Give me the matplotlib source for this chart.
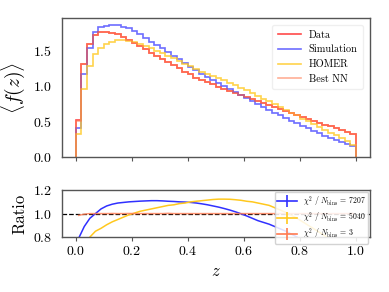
import numpy as np
import matplotlib
matplotlib.use("Agg")
import matplotlib.pyplot as plt
from matplotlib.lines import Line2D

plt.rcParams['font.family'] = 'serif'
plt.rcParams['font.serif'] = ['cmr10', 'DejaVu Serif']
plt.rcParams['mathtext.fontset'] = 'cm'
plt.rcParams['axes.formatter.use_mathtext'] = True
plt.rcParams['axes.unicode_minus'] = False

# 50 bins on [0, 1]
edges = np.linspace(0.0, 1.0, 51)
centers = 0.5 * (edges[:-1] + edges[1:])

data_vals = [0.52, 1.30, 1.59, 1.71, 1.75, 1.76, 1.74, 1.72, 1.68, 1.64,
             1.60, 1.555, 1.51, 1.465, 1.42, 1.375, 1.33, 1.29, 1.245, 1.20,
             1.16, 1.115, 1.08, 1.05, 1.02, 0.99, 0.96, 0.93, 0.90, 0.87,
             0.84, 0.815, 0.785, 0.755, 0.73, 0.70, 0.67, 0.645, 0.615, 0.59,
             0.565, 0.54, 0.51, 0.485, 0.455, 0.43, 0.405, 0.38, 0.355, 0.33]

sim_vals = [0.41, 1.17, 1.53, 1.76, 1.82, 1.84, 1.85, 1.85, 1.83, 1.81,
            1.77, 1.72, 1.67, 1.62, 1.575, 1.525, 1.47, 1.42, 1.37, 1.32,
            1.27, 1.215, 1.17, 1.13, 1.085, 1.045, 1.00, 0.96, 0.915, 0.87,
            0.825, 0.785, 0.74, 0.70, 0.665, 0.625, 0.585, 0.55, 0.51, 0.475,
            0.44, 0.405, 0.37, 0.335, 0.30, 0.27, 0.24, 0.21, 0.18, 0.15]

homer_vals = [0.33, 0.96, 1.28, 1.45, 1.53, 1.59, 1.62, 1.64, 1.64, 1.63,
              1.61, 1.585, 1.555, 1.525, 1.49, 1.455, 1.42, 1.385, 1.35, 1.31,
              1.275, 1.235, 1.20, 1.165, 1.135, 1.11, 1.075, 1.045, 1.01, 0.97,
              0.935, 0.90, 0.86, 0.82, 0.785, 0.745, 0.705, 0.665, 0.625, 0.585,
              0.54, 0.50, 0.46, 0.42, 0.38, 0.345, 0.31, 0.27, 0.23, 0.175]

nn_vals = [0.51, 1.30, 1.59, 1.71, 1.75, 1.76, 1.745, 1.72, 1.68, 1.645,
           1.60, 1.555, 1.51, 1.465, 1.42, 1.375, 1.335, 1.29, 1.245, 1.20,
           1.16, 1.115, 1.08, 1.05, 1.02, 0.99, 0.96, 0.93, 0.90, 0.87,
           0.84, 0.815, 0.785, 0.755, 0.73, 0.70, 0.67, 0.645, 0.615, 0.59,
           0.565, 0.54, 0.51, 0.485, 0.455, 0.43, 0.405, 0.38, 0.355, 0.33]

ratio_sim = [0.79, 0.89, 0.96, 1.0, 1.04, 1.065, 1.08, 1.09, 1.095, 1.10,
             1.103, 1.106, 1.108, 1.11, 1.11, 1.108, 1.105, 1.103, 1.10, 1.098,
             1.095, 1.09, 1.083, 1.075, 1.065, 1.055, 1.043, 1.03, 1.015, 0.998,
             0.98, 0.96, 0.94, 0.925, 0.91, 0.89, 0.87, 0.85, 0.825, 0.80,
             0.775, 0.75, 0.72, 0.69, 0.66, 0.63, 0.60, 0.56, 0.52, 0.46]

ratio_homer = [0.63, 0.74, 0.80, 0.85, 0.875, 0.905, 0.93, 0.95, 0.97, 0.99,
               1.005, 1.02, 1.03, 1.04, 1.05, 1.06, 1.07, 1.075, 1.085, 1.09,
               1.10, 1.105, 1.11, 1.115, 1.12, 1.123, 1.123, 1.122, 1.118, 1.113,
               1.105, 1.10, 1.09, 1.08, 1.07, 1.05, 1.03, 1.01, 0.985, 0.96,
               0.93, 0.90, 0.87, 0.84, 0.81, 0.78, 0.75, 0.71, 0.66, 0.56]

ratio_nn = [0.985, 0.995, 1.0, 1.0, 1.0, 1.0, 1.001, 1.0, 1.0, 1.001,
            1.0, 1.0, 1.0, 1.0, 1.0, 1.0, 1.002, 1.0, 1.0, 1.0,
            1.0, 1.0, 1.0, 1.0, 1.0, 1.0, 1.0, 1.0, 1.0, 1.0,
            1.0, 1.0, 1.0, 1.0, 1.0, 1.0, 1.0, 1.0, 1.0, 1.0,
            1.0, 1.0, 1.0, 1.0, 1.0, 1.0, 1.0, 1.0, 1.0, 1.0]

chi2_labels = ['7207', '5040', '3']

c_data = '#ff2a2a'
c_sim = '#3030ff'
c_homer = '#ffc81e'
c_nn = '#ff7a50'
spine_col = '#555555'

fig = plt.figure(figsize=(3.89, 2.92), dpi=100)
ax = fig.add_axes([0.159, 0.462, 0.792, 0.476])
axr = fig.add_axes([0.159, 0.188, 0.792, 0.161])

ax.stairs(data_vals, edges, color=c_data, lw=1.2, alpha=0.85, label='Data')
ax.stairs(sim_vals, edges, color=c_sim, lw=1.2, alpha=0.7, label='Simulation')
ax.stairs(homer_vals, edges, color=c_homer, lw=1.2, alpha=0.8, label='HOMER')
ax.stairs(nn_vals, edges, color=c_nn, lw=1.2, alpha=0.6, label='Best NN')

ax.set_xlim(-0.05, 1.05)
ax.set_ylim(0, 1.95)
ax.set_xticks([0.0, 0.2, 0.4, 0.6, 0.8, 1.0])
ax.set_xticklabels([])
ax.set_yticks([0.0, 0.5, 1.0, 1.5])
ax.set_ylabel(r'$\langle f(z)\rangle$', fontsize=14, labelpad=4)
ax.legend(loc='upper right', fontsize=7.4, frameon=True, framealpha=0.9,
          edgecolor='#eeeeee', handlelength=2.2, borderpad=0.55,
          labelspacing=0.5, bbox_to_anchor=(0.995, 0.99))

axr.axhline(1.0, color='black', ls='--', lw=0.9)
axr.plot(centers, ratio_sim, color=c_sim, lw=1.1)
axr.plot(centers, ratio_homer, color=c_homer, lw=1.1)
axr.plot(centers, ratio_nn, color=c_nn, lw=1.1, alpha=0.8)
axr.set_xlim(-0.05, 1.05)
axr.set_ylim(0.8, 1.2)
axr.set_yticks([0.8, 1.0, 1.2])
axr.set_xticks([0.0, 0.2, 0.4, 0.6, 0.8, 1.0])
axr.set_ylabel('Ratio', fontsize=12, labelpad=4)
axr.set_xlabel(r'$z$', fontsize=12, labelpad=4)

handles = [Line2D([0], [0], color=c, marker='|', markersize=8, lw=1.2, mew=1.2)
           for c in (c_sim, c_homer, c_nn)]
labels = [r'$\chi^2$ / $N_{\rm bins}$ = ' + s for s in chi2_labels]
axr.legend(handles, labels, loc='upper right', fontsize=5.6, numpoints=1,
           frameon=True, framealpha=0.85, edgecolor='#cccccc',
           handlelength=2.6, handleheight=0.6, borderpad=0.3,
           labelspacing=0.2, borderaxespad=0.2,
           bbox_to_anchor=(1.0, 1.0))

for a in (ax, axr):
    for s in a.spines.values():
        s.set_color(spine_col)
        s.set_linewidth(1.0)
    a.tick_params(axis='y', length=0, pad=7, labelsize=10)
    a.tick_params(axis='x', length=3, color=spine_col, labelsize=10, pad=3)

fig.savefig('out.png', dpi=100)
